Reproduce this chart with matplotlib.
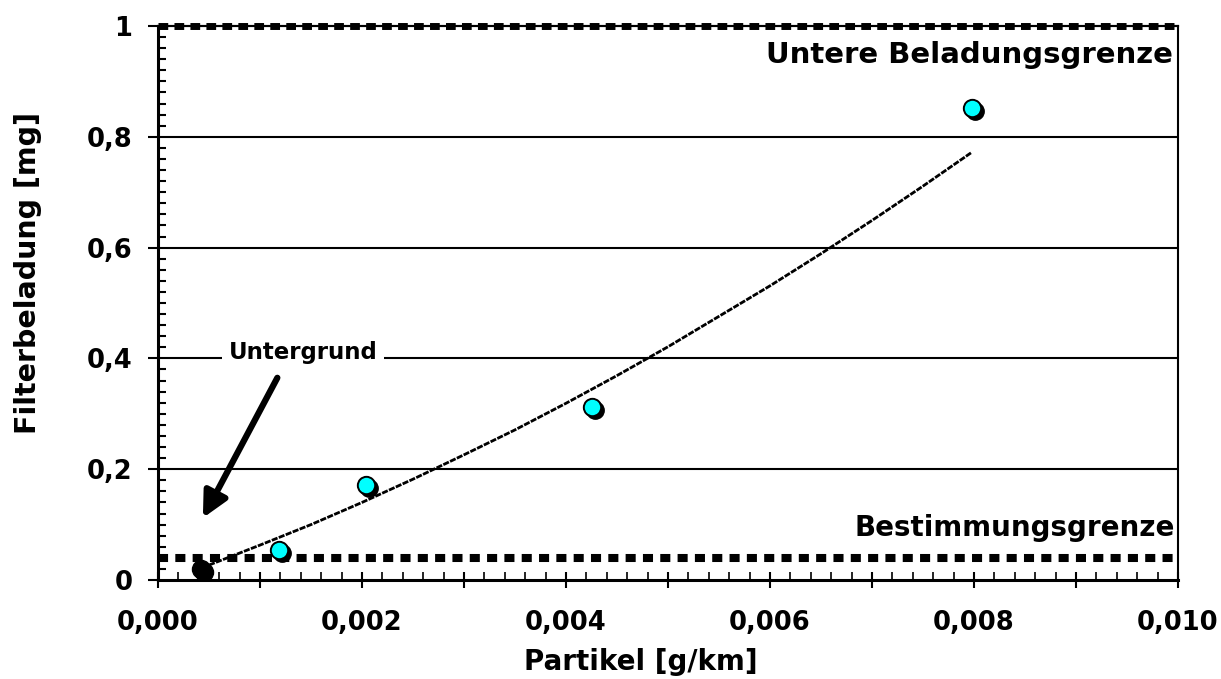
import numpy as np
import matplotlib
matplotlib.use("Agg")
import matplotlib.pyplot as plt
import matplotlib.transforms as mtransforms
from matplotlib.ticker import FixedLocator, FuncFormatter

# Messpunkte
partikel = [0.00119, 0.00204, 0.00425, 0.00798]
beladung = [0.054, 0.171, 0.312, 0.852]

# Untergrund (schwarzer Punkt)
untergrund_x = [0.00042]
untergrund_y = [0.02]

# Trendlinie
trend_x = [0.0005, 0.0010, 0.0015, 0.0020, 0.0025, 0.0030, 0.0035, 0.0040,
           0.0045, 0.0050, 0.0055, 0.0060, 0.0065, 0.0070, 0.0075, 0.00797]
trend_y = [0.027, 0.063, 0.100, 0.140, 0.182, 0.226, 0.271, 0.319,
           0.369, 0.421, 0.476, 0.531, 0.589, 0.649, 0.711, 0.771]

# Grenzen
untere_grenze = 1.0
bestimmungsgrenze = 0.04

y_major = [0, 0.2, 0.4, 0.6, 0.8, 1.0]
x_major = [0.000, 0.001, 0.002, 0.003, 0.004, 0.005, 0.006, 0.007, 0.008, 0.009, 0.010]

plt.rcParams['font.family'] = ['DejaVu Sans']
plt.rcParams['font.weight'] = 'bold'

fig = plt.figure(figsize=(12.21, 6.79), dpi=100)
ax = fig.add_axes([158 / 1221, 99 / 679, 1020 / 1221, 554 / 679])

ax.set_xlim(0, 0.010)
ax.set_ylim(0, 1.0)

# Gitterlinien
for yv in [0.2, 0.4, 0.6, 0.8]:
    ax.axhline(yv, color='black', lw=1.5, zorder=1)

# Grenzlinien
ax.axhline(untere_grenze, color='black', lw=1.5, zorder=2, clip_on=False)
ax.axhline(untere_grenze, color='black', lw=5.0, linestyle=(0, (1.4, 0.9)),
           dash_capstyle='butt', zorder=3, clip_on=False)
ax.plot([0, 0.00995], [bestimmungsgrenze, bestimmungsgrenze], color='black', lw=5.8,
        linestyle=(0, (1.25, 0.9)), dash_capstyle='butt', zorder=3)

# Trendlinie
ax.plot(trend_x, trend_y, color='black', lw=2.0, linestyle=(0, (2.2, 0.5)), zorder=4)

# Punkte mit Schatten
shadow = mtransforms.offset_copy(ax.transData, fig=fig, x=3, y=-3, units='dots')
ax.plot(partikel, beladung, 'o', color='black', ms=12.5, transform=shadow, zorder=5)
ax.plot(partikel, beladung, 'o', markerfacecolor='#00FFFF', markeredgecolor='black',
        mew=1.4, ms=12.5, zorder=6)
ax.plot(untergrund_x, untergrund_y, 'o', color='black', ms=13, transform=shadow, zorder=5)
ax.plot(untergrund_x, untergrund_y, 'o', color='black', ms=13, zorder=6)

# Beschriftungen
ax.text(0.00995, 0.948, 'Untere Beladungsgrenze', ha='right', va='center',
        fontsize=21, fontweight='bold', zorder=7)
ax.text(0.00997, 0.094, 'Bestimmungsgrenze', ha='right', va='center',
        fontsize=20, fontweight='bold', zorder=7)
ax.text(0.00142, 0.41, 'Untergrund', ha='center', va='center', fontsize=16.5,
        fontweight='bold', zorder=7,
        bbox=dict(facecolor='white', edgecolor='none', pad=5))
ax.annotate('', xy=(0.00044, 0.112), xytext=(0.00117, 0.365),
            arrowprops=dict(arrowstyle='-|>', lw=4.5, color='black',
                            mutation_scale=38, shrinkA=0, shrinkB=0), zorder=7)

# Achsen
for side in ['left', 'bottom', 'right', 'top']:
    ax.spines[side].set_color('black')
ax.spines['left'].set_linewidth(2.2)
ax.spines['bottom'].set_linewidth(2.2)
ax.spines['right'].set_linewidth(1.5)
ax.spines['top'].set_linewidth(1.5)

ax.yaxis.set_major_locator(FixedLocator(y_major))
ax.yaxis.set_minor_locator(FixedLocator(np.arange(0, 1.001, 0.02)))
ax.yaxis.set_major_formatter(FuncFormatter(
    lambda v, p: '0' if v == 0 else ('1' if v == 1 else f'{v:.1f}'.replace('.', ','))))
ax.xaxis.set_major_locator(FixedLocator(x_major))
ax.xaxis.set_minor_locator(FixedLocator(np.arange(0, 0.01001, 0.0002)))
ax.xaxis.set_major_formatter(FuncFormatter(
    lambda v, p: f'{v:.3f}'.replace('.', ',') if p % 2 == 0 else ''))

ax.tick_params(axis='y', which='major', direction='out', length=7.5, width=1.5,
               labelsize=18.5, pad=11)
ax.tick_params(axis='y', which='minor', direction='in', length=6, width=1.5)
ax.tick_params(axis='x', which='major', direction='inout', length=11, width=1.5,
               labelsize=18.5, pad=16)
ax.tick_params(axis='x', which='minor', direction='in', length=5.5, width=1.2)
for lbl in ax.get_xticklabels() + ax.get_yticklabels():
    lbl.set_fontweight('bold')

ax.set_xlabel('Partikel [g/km]', fontsize=20, fontweight='bold')
ax.xaxis.set_label_coords(0.4735, -0.122)
ax.set_ylabel('Filterbeladung [mg]', fontsize=20.5, fontweight='bold')
ax.yaxis.set_label_coords(-0.114, 0.554)

fig.savefig('out.png', dpi=100)
